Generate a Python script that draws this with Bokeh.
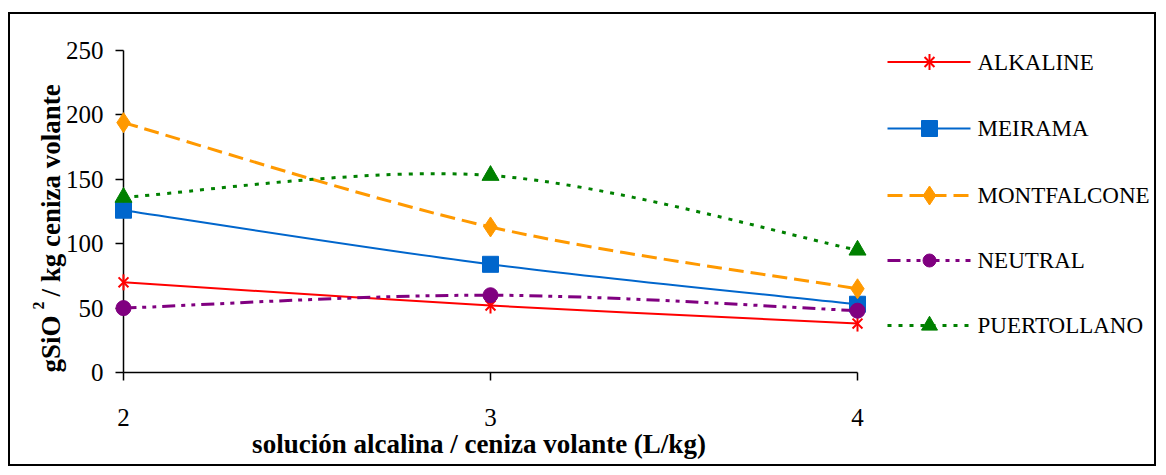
import math
from bokeh.plotting import figure
from bokeh.models import Range1d, FixedTicker, ColumnDataSource
from bokeh.core.properties import value
from bokeh.embed import file_html
from bokeh.resources import INLINE

# ---- data ----
x_vals = [2, 3, 4]
alkaline = [70, 52, 38]
meirama = [126, 84, 53]
montfalcone = [194, 113, 65]
neutral = [50, 60, 48]
puertollano = [136, 153, 95]

series_names = ["ALKALINE", "MEIRAMA", "MONTFALCONE", "NEUTRAL", "PUERTOLLANO"]
y_ticks = [0, 50, 100, 150, 200, 250]
x_ticks = [2, 3, 4]

x_title = "solución alcalina / ceniza volante (L/kg)"
y_title_parts = ["gSiO", "2", "/ kg ceniza volante"]

SERIF = "Liberation Serif"
X0, X1 = 2, 4
Y0, Y1 = 0, 250


def smooth_segments(xs, ys):
    """Bezier control points like a spreadsheet 'smoothed line'."""
    n = len(xs)
    d = dict(x0=[], y0=[], x1=[], y1=[], cx0=[], cy0=[], cx1=[], cy1=[])
    for i in range(n - 1):
        im1 = max(i - 1, 0)
        ip2 = min(i + 2, n - 1)
        d["x0"].append(xs[i]); d["y0"].append(ys[i])
        d["x1"].append(xs[i + 1]); d["y1"].append(ys[i + 1])
        d["cx0"].append(xs[i] + (xs[i + 1] - xs[im1]) / 6)
        d["cy0"].append(ys[i] + (ys[i + 1] - ys[im1]) / 6)
        d["cx1"].append(xs[i + 1] - (xs[ip2] - xs[i]) / 6)
        d["cy1"].append(ys[i + 1] - (ys[ip2] - ys[i]) / 6)
    return ColumnDataSource(d)


# page geometry: outer box drawn as CSS border of the plot element
OX, OY = 10, 14                 # canvas origin on the page (margin + border)
CW, CH = 1144, 450              # requested size (rendered 4px larger with border)
CWA, CHA = CW + 4, CH + 4       # actual canvas size
FL, FR, FT, FB = 123, 857, 50, 372   # axis box on the page


def sx(px):   # page pixel -> data x (layout-only items: legend, titles)
    return X0 + (px - FL) * (X1 - X0) / (FR - FL)


def sy(py):   # page pixel -> data y
    return Y0 + (FB - py) * (Y1 - Y0) / (FB - FT)


# the frame spans to the canvas' right and top edges so the legend sits inside it;
# the axes are bounded to the data ranges
p = figure(width=CW, height=CH, output_backend="svg", toolbar_location=None,
           x_range=Range1d(X0, sx(OX + CWA)), y_range=Range1d(Y0, sy(OY)),
           min_border_left=FL - OX, min_border_right=0,
           min_border_top=0, min_border_bottom=CHA - (FB - OY))
p.styles = {"border": "2px solid black", "margin-left": "8px",
            "margin-top": "12px", "box-sizing": "content-box"}
p.outline_line_color = None
p.xgrid.visible = False
p.ygrid.visible = False
p.background_fill_color = "white"
p.border_fill_color = "white"

for ax in (p.xaxis[0], p.yaxis[0]):
    ax.major_label_text_font = SERIF
    ax.major_label_text_font_size = "25px"
    ax.major_label_text_color = "black"
    ax.axis_line_color = "black"
    ax.axis_line_width = 1.5
    ax.major_tick_line_color = "black"
    ax.major_tick_line_width = 1.5
    ax.major_tick_out = 8
    ax.major_tick_in = 0
    ax.minor_tick_line_color = None

p.xaxis.ticker = FixedTicker(ticks=x_ticks)
p.yaxis.ticker = FixedTicker(ticks=y_ticks)
p.xaxis.bounds = (X0, X1)
p.yaxis.bounds = (Y0, Y1)
p.xaxis.major_label_standoff = 28
p.yaxis.major_label_standoff = 12

styles = [
    dict(color="#FF0000", dash="solid", width=2, marker="x", size=14, lsize=14),
    dict(color="#0066CC", dash="solid", width=2, marker="square", size=16, lsize=16),
    dict(color="#FF9900", dash="15 7", width=3, marker="diamond", size=20, lsize=19),
    dict(color="#800080", dash="13 6 4 6 4 6", width=3, marker="circle", size=15, lsize=13),
    dict(color="#008000", dash="4 7", width=3, marker="triangle", size=17, lsize=16),
]
all_series = [alkaline, meirama, montfalcone, neutral, puertollano]

# legend layout (page pixels)
LEG_X0, LEG_X1, LEG_MID, LEG_TXT = 887, 970, 929, 977
LEG_ROWS = [61.5, 128, 195, 260, 325]


def markers(xs, ys, st, size):
    kw = dict(line_color=st["color"], fill_color=st["color"], level="overlay")
    if st["marker"] == "x":
        # six-armed star: an x with a vertical bar
        p.scatter(xs, ys, marker="x", size=size, line_width=2, **kw)
        p.scatter(xs, ys, marker="dash", angle=math.pi / 2, size=size + 2,
                  line_width=2, **kw)
    else:
        p.scatter(xs, ys, marker=st["marker"], size=size, **kw)


for name, ys, st, row in zip(series_names, all_series, styles, LEG_ROWS):
    src = smooth_segments(x_vals, ys)
    p.bezier(x0="x0", y0="y0", x1="x1", y1="y1", cx0="cx0", cy0="cy0",
             cx1="cx1", cy1="cy1", source=src, line_color=st["color"],
             line_width=st["width"], line_dash=st["dash"], level="overlay")
    markers(x_vals, ys, st, st["size"])

    # legend entry
    p.segment(x0=[sx(LEG_X0)], y0=[sy(row)], x1=[sx(LEG_X1)], y1=[sy(row)],
              line_color=st["color"], line_width=st["width"],
              line_dash=st["dash"], level="overlay")
    markers([sx(LEG_MID)], [sy(row)], st, st["lsize"])
    p.text(x=[sx(LEG_TXT)], y=[sy(row)], text=[name], text_font=value(SERIF),
           text_font_size="23px", text_color="black", text_align="left",
           text_baseline="middle", level="overlay")

# x axis title
p.text(x=[sx(478.5)], y=[sy(443)], text=[x_title], text_font=value(SERIF),
       text_font_style="bold", text_font_size="27px", text_color="black",
       text_align="center", text_baseline="alphabetic", level="overlay")

# y axis title pieces (rotated, reading bottom-to-top)
ytitle_kw = dict(angle=math.pi / 2, text_font=value(SERIF), text_font_style="bold",
                 text_color="black", text_align="left",
                 text_baseline="alphabetic", level="overlay")
p.text(x=[sx(50)], y=[sy(372)], text=[y_title_parts[0]], text_font_size="27px",
       **ytitle_kw)
p.text(x=[sx(38)], y=[sy(309)], text=[y_title_parts[1]], text_font_size="16px",
       **ytitle_kw)
p.text(x=[sx(50)], y=[sy(296)], text=[y_title_parts[2]], text_font_size="27px",
       **ytitle_kw)

open("out.html", "w").write(file_html(p, INLINE))
